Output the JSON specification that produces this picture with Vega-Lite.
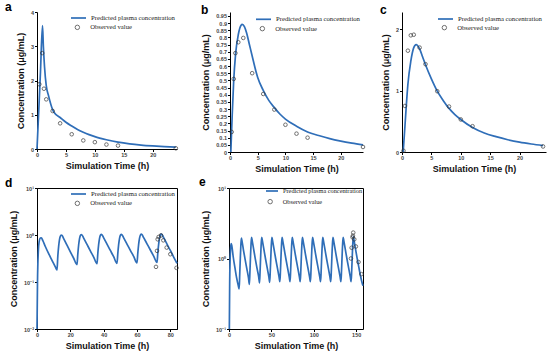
{
"$schema": "https://vega.github.io/schema/vega-lite/v6.json",
"padding": {"left": 4, "top": 1, "right": 4, "bottom": 4},
"background": "white",
"columns": 3,
"spacing": {"row": 36, "column": 39},
"align": "each",
"bounds": "flush",
"resolve": {"scale": {"x": "independent", "y": "independent", "color": "independent", "shape": "independent"}, "legend": {"color": "independent", "shape": "independent"}, "axis": {"x": "independent", "y": "independent"}},
"datasets": {
"aP": [{"t":0,"c":0},{"t":0.3,"c":1.1},{"t":0.6,"c":2.25},{"t":0.95,"c":3.6},{"t":1.1,"c":3.0},{"t":1.3,"c":2.4},{"t":1.6,"c":1.85},{"t":2,"c":1.55},{"t":2.7,"c":1.15},{"t":3,"c":1.06},{"t":4,"c":0.92},{"t":5,"c":0.78},{"t":6,"c":0.67},{"t":7,"c":0.57},{"t":8,"c":0.49},{"t":9,"c":0.42},{"t":10,"c":0.36},{"t":12,"c":0.27},{"t":14,"c":0.2},{"t":16,"c":0.15},{"t":18,"c":0.115},{"t":20,"c":0.09},{"t":22,"c":0.07},{"t":24,"c":0.055}],
"aO": [{"t":0.4,"c":1.89},{"t":0.9,"c":2.8},{"t":1.2,"c":1.76},{"t":1.6,"c":1.45},{"t":2.7,"c":1.11},{"t":4,"c":0.75},{"t":6,"c":0.43},{"t":8,"c":0.25},{"t":10,"c":0.2},{"t":12,"c":0.13},{"t":14,"c":0.1},{"t":24,"c":0.02}],
"bP": [{"t":0.15,"c":0},{"t":0.4,"c":0.26},{"t":0.67,"c":0.5},{"t":1.0,"c":0.68},{"t":1.5,"c":0.82},{"t":2.0,"c":0.885},{"t":2.2,"c":0.89},{"t":2.6,"c":0.875},{"t":3,"c":0.83},{"t":3.5,"c":0.75},{"t":4,"c":0.67},{"t":4.7,"c":0.56},{"t":5,"c":0.52},{"t":6,"c":0.43},{"t":7,"c":0.36},{"t":8,"c":0.31},{"t":9,"c":0.265},{"t":10,"c":0.23},{"t":12,"c":0.18},{"t":14,"c":0.14},{"t":16,"c":0.115},{"t":18,"c":0.093},{"t":20,"c":0.076},{"t":22,"c":0.062},{"t":24,"c":0.05}],
"bO": [{"t":0.3,"c":0.14},{"t":0.67,"c":0.51},{"t":0.97,"c":0.69},{"t":1.5,"c":0.766},{"t":2.4,"c":0.796},{"t":4,"c":0.55},{"t":6,"c":0.405},{"t":8,"c":0.296},{"t":10,"c":0.19},{"t":12,"c":0.128},{"t":14,"c":0.1},{"t":24,"c":0.035}],
"cP": [{"t":0.2,"c":0},{"t":0.5,"c":0.42},{"t":0.75,"c":0.78},{"t":1,"c":1.1},{"t":1.5,"c":1.48},{"t":2,"c":1.7},{"t":2.4,"c":1.75},{"t":3,"c":1.68},{"t":3.5,"c":1.55},{"t":4,"c":1.42},{"t":5,"c":1.19},{"t":6,"c":0.99},{"t":7,"c":0.84},{"t":8,"c":0.71},{"t":9,"c":0.61},{"t":10,"c":0.53},{"t":12,"c":0.4},{"t":14,"c":0.31},{"t":16,"c":0.25},{"t":18,"c":0.2},{"t":20,"c":0.16},{"t":22,"c":0.13},{"t":24,"c":0.105}],
"cO": [{"t":0.25,"c":0.02},{"t":0.5,"c":0.75},{"t":1,"c":1.65},{"t":1.5,"c":1.9},{"t":2,"c":1.91},{"t":3,"c":1.7},{"t":4,"c":1.43},{"t":6,"c":0.99},{"t":8,"c":0.74},{"t":10,"c":0.53},{"t":12,"c":0.42},{"t":24,"c":0.09}],
"dP": [{"t":0,"c":0.01},{"t":0.3,"c":0.1},{"t":0.8,"c":0.45},{"t":1.3,"c":0.72},{"t":2,"c":0.86},{"t":2.6,"c":0.87},{"t":3.5,"c":0.76},{"t":5,"c":0.57},{"t":7,"c":0.4},{"t":9,"c":0.29},{"t":11,"c":0.21},{"t":12,"c":0.18},
{"t":12.5,"c":0.36},{"t":13,"c":0.58},{"t":13.5,"c":0.8},{"t":14,"c":0.94},{"t":14.5,"c":1.0},{"t":15,"c":0.98},{"t":16,"c":0.84},{"t":18,"c":0.61},{"t":20,"c":0.44},{"t":22,"c":0.32},{"t":24,"c":0.235},
{"t":24.5,"c":0.4},{"t":25,"c":0.62},{"t":25.5,"c":0.83},{"t":26,"c":0.97},{"t":26.5,"c":1.02},{"t":27,"c":1.0},{"t":28,"c":0.86},{"t":30,"c":0.63},{"t":32,"c":0.46},{"t":34,"c":0.34},{"t":36,"c":0.245},
{"t":36.5,"c":0.41},{"t":37,"c":0.63},{"t":37.5,"c":0.84},{"t":38,"c":0.98},{"t":38.5,"c":1.03},{"t":39,"c":1.01},{"t":40,"c":0.87},{"t":42,"c":0.64},{"t":44,"c":0.47},{"t":46,"c":0.345},{"t":48,"c":0.25},
{"t":48.5,"c":0.41},{"t":49,"c":0.63},{"t":49.5,"c":0.84},{"t":50,"c":0.98},{"t":50.5,"c":1.03},{"t":51,"c":1.01},{"t":52,"c":0.87},{"t":54,"c":0.64},{"t":56,"c":0.47},{"t":58,"c":0.35},{"t":60,"c":0.255},
{"t":60.5,"c":0.42},{"t":61,"c":0.64},{"t":61.5,"c":0.85},{"t":62,"c":0.99},{"t":62.5,"c":1.04},{"t":63,"c":1.02},{"t":64,"c":0.88},{"t":66,"c":0.65},{"t":68,"c":0.48},{"t":70,"c":0.355},{"t":72,"c":0.26},
{"t":72.5,"c":0.42},{"t":73,"c":0.64},{"t":73.5,"c":0.85},{"t":74,"c":0.99},{"t":74.5,"c":1.04},{"t":75,"c":1.02},{"t":76,"c":0.88},{"t":78,"c":0.64},{"t":80,"c":0.47},{"t":82,"c":0.34},{"t":84,"c":0.25}],
"dO": [{"t":71.4,"c":0.21},{"t":72,"c":0.46},{"t":72.4,"c":0.81},{"t":73,"c":0.91},{"t":74.4,"c":0.98},{"t":75.8,"c":0.77},{"t":77.8,"c":0.54},{"t":80,"c":0.39},{"t":83.7,"c":0.2}],
"eP": [{"t":0.4,"c":0.1},{"t":0.8,"c":0.45},{"t":1.3,"c":0.95},{"t":1.8,"c":1.35},{"t":2.5,"c":1.63},{"t":3.2,"c":1.55},{"t":5,"c":1.05},{"t":7,"c":0.74},{"t":9,"c":0.53},{"t":11,"c":0.41},{"t":12,"c":0.37},
{"t":12.7,"c":0.62},{"t":13.4,"c":1.05},{"t":14,"c":1.55},{"t":14.6,"c":1.95},{"t":15.3,"c":1.78},{"t":17,"c":1.33},{"t":19,"c":0.97},{"t":21,"c":0.72},{"t":23,"c":0.53},{"t":24,"c":0.43},
{"t":24.7,"c":0.66},{"t":25.4,"c":1.1},{"t":26,"c":1.6},{"t":26.6,"c":2.0},{"t":27.3,"c":1.8},{"t":29,"c":1.37},{"t":31,"c":0.99},{"t":33,"c":0.73},{"t":35,"c":0.55},{"t":36,"c":0.45},
{"t":36.7,"c":0.68},{"t":37.4,"c":1.12},{"t":38,"c":1.62},{"t":38.6,"c":2.0},{"t":39.3,"c":1.8},{"t":41,"c":1.38},{"t":43,"c":1.0},{"t":45,"c":0.74},{"t":47,"c":0.55},{"t":48,"c":0.46},
{"t":48.7,"c":0.68},{"t":49.4,"c":1.12},{"t":50,"c":1.62},{"t":50.6,"c":2.0},{"t":51.3,"c":1.8},{"t":53,"c":1.38},{"t":55,"c":1.0},{"t":57,"c":0.74},{"t":59,"c":0.55},{"t":60,"c":0.47},
{"t":60.7,"c":0.68},{"t":61.4,"c":1.12},{"t":62,"c":1.62},{"t":62.6,"c":2.0},{"t":63.3,"c":1.8},{"t":65,"c":1.38},{"t":67,"c":1.0},{"t":69,"c":0.74},{"t":71,"c":0.55},{"t":72,"c":0.47},
{"t":72.7,"c":0.68},{"t":73.4,"c":1.12},{"t":74,"c":1.62},{"t":74.6,"c":2.0},{"t":75.3,"c":1.8},{"t":77,"c":1.38},{"t":79,"c":1.0},{"t":81,"c":0.74},{"t":83,"c":0.55},{"t":84,"c":0.47},
{"t":84.7,"c":0.68},{"t":85.4,"c":1.12},{"t":86,"c":1.62},{"t":86.6,"c":2.0},{"t":87.3,"c":1.8},{"t":89,"c":1.38},{"t":91,"c":1.0},{"t":93,"c":0.74},{"t":95,"c":0.55},{"t":96,"c":0.47},
{"t":96.7,"c":0.68},{"t":97.4,"c":1.12},{"t":98,"c":1.62},{"t":98.6,"c":2.0},{"t":99.3,"c":1.8},{"t":101,"c":1.38},{"t":103,"c":1.0},{"t":105,"c":0.74},{"t":107,"c":0.55},{"t":108,"c":0.47},
{"t":108.7,"c":0.68},{"t":109.4,"c":1.12},{"t":110,"c":1.62},{"t":110.6,"c":2.0},{"t":111.3,"c":1.8},{"t":113,"c":1.38},{"t":115,"c":1.0},{"t":117,"c":0.74},{"t":119,"c":0.55},{"t":120,"c":0.47},
{"t":120.7,"c":0.68},{"t":121.4,"c":1.12},{"t":122,"c":1.62},{"t":122.6,"c":2.0},{"t":123.3,"c":1.8},{"t":125,"c":1.38},{"t":127,"c":1.0},{"t":129,"c":0.74},{"t":131,"c":0.55},{"t":132,"c":0.47},
{"t":132.7,"c":0.68},{"t":133.4,"c":1.12},{"t":134,"c":1.62},{"t":134.6,"c":2.0},{"t":135.3,"c":1.8},{"t":137,"c":1.38},{"t":139,"c":1.0},{"t":141,"c":0.74},{"t":143,"c":0.55},{"t":144,"c":0.47},
{"t":144.7,"c":0.68},{"t":145.4,"c":1.12},{"t":146,"c":1.65},{"t":146.6,"c":2.05},{"t":147.3,"c":1.85},{"t":149,"c":1.4},{"t":151,"c":1.02},{"t":153,"c":0.76},{"t":155,"c":0.57},{"t":157,"c":0.45},{"t":158,"c":0.41}],
"eO": [{"t":143.8,"c":1.0},{"t":144.6,"c":1.42},{"t":145.7,"c":2.0},{"t":146.1,"c":2.1},{"t":146.5,"c":2.33},{"t":147.7,"c":1.87},{"t":149.6,"c":1.48},{"t":152.7,"c":0.89},{"t":156.2,"c":0.6}]
},
"concat": [
{
"width": 140, "height": 137,
"title": {"text": "a", "dx": -32, "dy": 8.5},
"encoding": {
"x": {"field": "t", "type": "quantitative", "scale": {"domain": [0, 24.2], "nice": false, "zero": false}, "axis": {"values": [0, 5, 10, 15, 20], "format": "d", "title": "Simulation Time (h)"}},
"y": {"field": "c", "type": "quantitative", "scale": {"domain": [0, 4], "nice": false}, "axis": {"values": [0, 1, 2, 3, 4], "format": "d", "title": "Concentration (μg/mL)"}}
},
"layer": [
{"data": {"name": "aP"}, "mark": {"type": "line", "interpolate": "monotone"},
"encoding": {"color": {"datum": "Predicted plasma concentration", "type": "nominal", "scale": {"range": ["#2f6eb8"]}, "legend": {"title": null, "orient": "none", "legendX": 33, "legendY": -2.5, "symbolType": "stroke", "symbolSize": 225, "symbolStrokeWidth": 2, "labelOffset": 4}}}},
{"data": {"name": "aO"}, "mark": {"type": "point", "shape": "circle", "filled": false, "color": "#333", "size": 13, "strokeWidth": 1},
"encoding": {"shape": {"datum": "Observed value", "type": "nominal", "scale": {"range": ["circle"]}, "legend": {"title": null, "orient": "none", "legendX": 37, "legendY": 12, "symbolType": "circle", "symbolSize": 20, "symbolStrokeColor": "#333", "symbolFillColor": "transparent", "symbolStrokeWidth": 1, "labelOffset": 9.5}}}}
]
},
{
"width": 147, "height": 140,
"title": {"text": "b", "dx": -15, "dy": 10.5},
"encoding": {
"x": {"field": "t", "type": "quantitative", "scale": {"domain": [0, 24], "range": [14, 147], "nice": false, "zero": false}, "axis": {"values": [0, 5, 10, 15, 20], "format": "d", "title": "Simulation Time (h)"}},
"y": {"field": "c", "type": "quantitative", "scale": {"domain": [0, 0.977], "nice": false}, "axis": {"values": [0, 0.05, 0.1, 0.15, 0.2, 0.25, 0.3, 0.35, 0.4, 0.45, 0.5, 0.55, 0.6, 0.65, 0.7, 0.75, 0.8, 0.85, 0.9, 0.95], "format": ".2~f", "offset": -14, "title": "Concentration (μg/mL)"}}
},
"layer": [
{"data": {"name": "bP"}, "mark": {"type": "line", "interpolate": "monotone"},
"encoding": {"color": {"datum": "Predicted plasma concentration", "type": "nominal", "scale": {"range": ["#2f6eb8"]}, "legend": {"title": null, "orient": "none", "legendX": 39, "legendY": -1.2, "symbolType": "stroke", "symbolSize": 225, "symbolStrokeWidth": 2, "labelOffset": 4}}}},
{"data": {"name": "bO"}, "mark": {"type": "point", "shape": "circle", "filled": false, "color": "#333", "size": 13, "strokeWidth": 1},
"encoding": {"shape": {"datum": "Observed value", "type": "nominal", "scale": {"range": ["circle"]}, "legend": {"title": null, "orient": "none", "legendX": 43, "legendY": 13.3, "symbolType": "circle", "symbolSize": 20, "symbolStrokeColor": "#333", "symbolFillColor": "transparent", "symbolStrokeWidth": 1, "labelOffset": 9.5}}}}
]
},
{
"width": 144, "height": 140,
"title": {"text": "c", "dx": -22, "dy": 10.5},
"encoding": {
"x": {"field": "t", "type": "quantitative", "scale": {"domain": [0, 24.5], "nice": false, "zero": false}, "axis": {"values": [0, 5, 10, 15, 20], "format": "d", "title": "Simulation Time (h)"}},
"y": {"field": "c", "type": "quantitative", "scale": {"domain": [0, 2.28], "nice": false}, "axis": {"values": [0, 1, 2], "format": "d", "title": "Concentration (μg/mL)"}}
},
"layer": [
{"data": {"name": "cP"}, "mark": {"type": "line", "interpolate": "monotone"},
"encoding": {"color": {"datum": "Predicted plasma concentration", "type": "nominal", "scale": {"range": ["#2f6eb8"]}, "legend": {"title": null, "orient": "none", "legendX": 35, "legendY": -1.5, "symbolType": "stroke", "symbolSize": 225, "symbolStrokeWidth": 2, "labelOffset": 4}}}},
{"data": {"name": "cO"}, "mark": {"type": "point", "shape": "circle", "filled": false, "color": "#333", "size": 13, "strokeWidth": 1},
"encoding": {"shape": {"datum": "Observed value", "type": "nominal", "scale": {"range": ["circle"]}, "legend": {"title": null, "orient": "none", "legendX": 39, "legendY": 12.3, "symbolType": "circle", "symbolSize": 20, "symbolStrokeColor": "#333", "symbolFillColor": "transparent", "symbolStrokeWidth": 1, "labelOffset": 9.5}}}}
]
},
{
"width": 140, "height": 141,
"view": {"stroke": "#000", "strokeWidth": 1},
"title": {"text": "d", "dx": -32, "dy": 8.5},
"encoding": {
"x": {"field": "t", "type": "quantitative", "scale": {"domain": [0, 84], "nice": false, "zero": false}, "axis": {"values": [0, 20, 40, 60, 80], "format": "d", "title": "Simulation Time (h)"}},
"y": {"field": "c", "type": "quantitative", "scale": {"type": "log", "domain": [0.01, 10], "nice": false}, "axis": {"values": [0.01, 0.1, 1, 10], "labelExpr": "datum.value >= 5 ? '10¹' : datum.value >= 0.5 ? '10⁰' : datum.value >= 0.05 ? '10⁻¹' : '10⁻²'", "title": "Concentration (μg/mL)"}}
},
"layer": [
{"data": {"name": "dP"}, "mark": {"type": "line", "interpolate": "monotone"},
"encoding": {"color": {"datum": "Predicted plasma concentration", "type": "nominal", "scale": {"range": ["#2f6eb8"]}, "legend": {"title": null, "orient": "none", "legendX": 33, "legendY": -2.5, "symbolType": "stroke", "symbolSize": 225, "symbolStrokeWidth": 2, "labelOffset": 4}}}},
{"data": {"name": "dO"}, "mark": {"type": "point", "shape": "circle", "filled": false, "color": "#333", "size": 13, "strokeWidth": 1},
"encoding": {"shape": {"datum": "Observed value", "type": "nominal", "scale": {"range": ["circle"]}, "legend": {"title": null, "orient": "none", "legendX": 37, "legendY": 12, "symbolType": "circle", "symbolSize": 20, "symbolStrokeColor": "#333", "symbolFillColor": "transparent", "symbolStrokeWidth": 1, "labelOffset": 9.5}}}}
]
},
{
"width": 147, "height": 141,
"title": {"text": "e", "dx": -17, "dy": 8.5},
"resolve": {"axis": {"x": "independent", "y": "independent"}},
"layer": [
{"data": {"name": "eP"}, "mark": {"type": "line", "interpolate": "monotone"},
"encoding": {
"x": {"field": "t", "type": "quantitative", "scale": {"domain": [0, 158], "range": [13, 147], "nice": false, "zero": false}, "axis": {"values": [0, 50, 100, 150], "format": "d", "title": "Simulation Time (h)"}},
"y": {"field": "c", "type": "quantitative", "scale": {"type": "log", "domain": [0.1, 10], "nice": false}, "axis": {"values": [0.1, 1, 10], "offset": -13, "labelExpr": "datum.value >= 5 ? '10¹' : datum.value >= 0.5 ? '10⁰' : '10⁻¹'", "title": "Concentration (μg/mL)"}},
"color": {"datum": "Predicted plasma concentration", "type": "nominal", "scale": {"range": ["#2f6eb8"]}, "legend": {"title": null, "orient": "none", "legendX": 49, "legendY": -4, "symbolType": "stroke", "symbolSize": 144, "symbolStrokeWidth": 2, "labelOffset": 4, "labelFontSize": 6.3}}
}},
{"data": {"name": "eO"}, "mark": {"type": "point", "shape": "circle", "filled": false, "color": "#333", "size": 13, "strokeWidth": 1},
"encoding": {
"x": {"field": "t", "type": "quantitative", "axis": {"orient": "top", "labels": false, "ticks": false, "title": null}},
"y": {"field": "c", "type": "quantitative", "axis": {"orient": "right", "labels": false, "ticks": false, "title": null}},
"shape": {"datum": "Observed value", "type": "nominal", "scale": {"range": ["circle"]}, "legend": {"title": null, "orient": "none", "legendX": 51, "legendY": 10.5, "symbolType": "circle", "symbolSize": 20, "symbolStrokeColor": "#333", "symbolFillColor": "transparent", "symbolStrokeWidth": 1, "labelOffset": 9.5, "labelFontSize": 6.3}}
}}
]
}
],
"config": {
"font": "Liberation Sans",
"view": {"stroke": null},
"line": {"strokeWidth": 1.7},
"axis": {"domainColor": "#000", "domainWidth": 1, "tickColor": "#000", "tickSize": 2.5, "tickWidth": 1, "labelFont": "Liberation Sans", "labelFontSize": 5.5, "labelFontWeight": "bold", "labelColor": "#444", "labelPadding": 1, "labelFlush": false, "labelOverlap": false, "titleFont": "Liberation Sans", "titleFontWeight": "bold", "titleColor": "#111", "grid": false},
"axisX": {"titleFontSize": 9, "titlePadding": 3},
"axisY": {"titleFontSize": 9, "titlePadding": 5},
"legend": {"labelFont": "Liberation Serif", "labelFontSize": 6.7, "labelColor": "#222", "padding": 0},
"title": {"fontSize": 12, "fontWeight": "bold", "anchor": "start", "frame": "group", "offset": 0, "color": "#000", "font": "Liberation Sans"}
}
}
